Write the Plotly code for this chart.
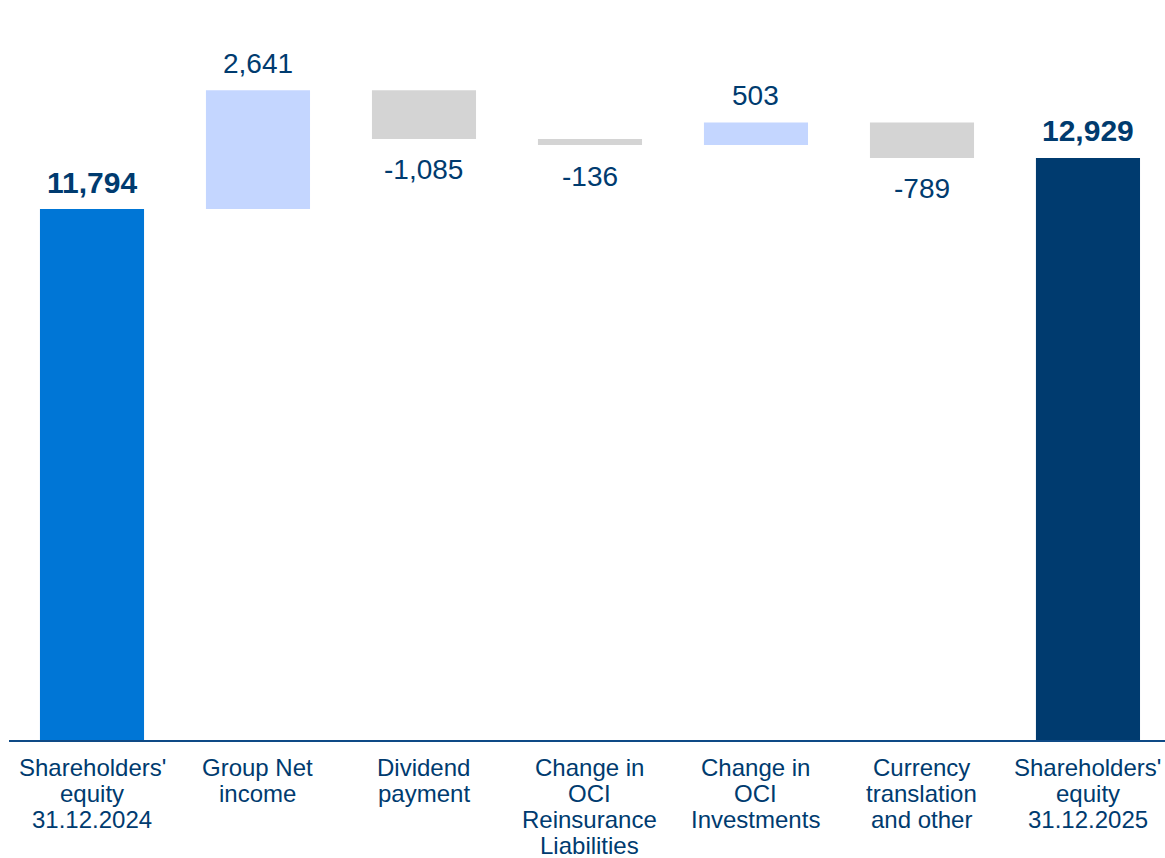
import plotly.graph_objects as go

# Shareholders' equity bridge, EUR m
categories = [
    "Shareholders'<br>equity<br>31.12.2024",
    "Group Net<br>income",
    "Dividend<br>payment",
    "Change in<br>OCI<br>Reinsurance<br>Liabilities",
    "Change in<br>OCI<br>Investments",
    "Currency<br>translation<br>and other",
    "Shareholders'<br>equity<br>31.12.2025",
]
opening_equity = 11794
changes = [2641, -1085, -136, 503, -789]
closing_equity = 12929

NAVY = "#003B6F"
FONT = "Liberation Sans, Arial, sans-serif"

# bar geometry: base and signed height for each step
bases, heights, colors, labels = [], [], [], []
bases.append(0)
heights.append(opening_equity)
colors.append("#0076D6")
labels.append(opening_equity)
running = opening_equity
for delta in changes:
    bases.append(running)
    heights.append(delta)
    colors.append("#C4D6FF" if delta > 0 else "#D4D4D4")
    labels.append(delta)
    running += delta
bases.append(0)
heights.append(closing_equity)
colors.append(NAVY)
labels.append(closing_equity)

xs = list(range(len(categories)))

fig = go.Figure(
    go.Bar(
        x=xs,
        y=heights,
        base=bases,
        width=0.627,
        marker=dict(color=colors, line=dict(width=0)),
        hoverinfo="skip",
    )
)

annotations = []
for i, (b, h, v) in enumerate(zip(bases, heights, labels)):
    is_total = i in (0, len(xs) - 1)
    end = b + h
    shift = 27 if h >= 0 else -31
    txt = f"{v:,}"
    annotations.append(
        dict(
            x=i, y=end, xref="x", yref="y", yshift=shift,
            text=f"<b>{txt}</b>" if is_total else txt,
            showarrow=False, xanchor="center", yanchor="middle",
            font=dict(family=FONT, size=30 if is_total else 28, color=NAVY),
        )
    )

# category labels, one annotation per line for tight line spacing
for i, cat in enumerate(categories):
    for k, line in enumerate(cat.split("<br>")):
        annotations.append(
            dict(
                x=i, y=0, xref="x", yref="paper", yshift=-(27 + 26 * k),
                text=line, showarrow=False, xanchor="center", yanchor="middle",
                font=dict(family=FONT, size=24, color=NAVY),
            )
        )

fig.update_layout(
    width=1165,
    height=858,
    margin=dict(l=9, r=0, t=0, b=118),
    paper_bgcolor="white",
    plot_bgcolor="white",
    showlegend=False,
    annotations=annotations,
    xaxis=dict(
        range=[-0.5, 6.464],
        showticklabels=False,
        ticks="",
        showgrid=False,
        zeroline=False,
        showline=True,
        linecolor="#0E4A86",
        linewidth=2,
    ),
    yaxis=dict(
        range=[0, 16437],
        visible=False,
        showgrid=False,
        zeroline=False,
    ),
)

fig.write_html("out.html")
